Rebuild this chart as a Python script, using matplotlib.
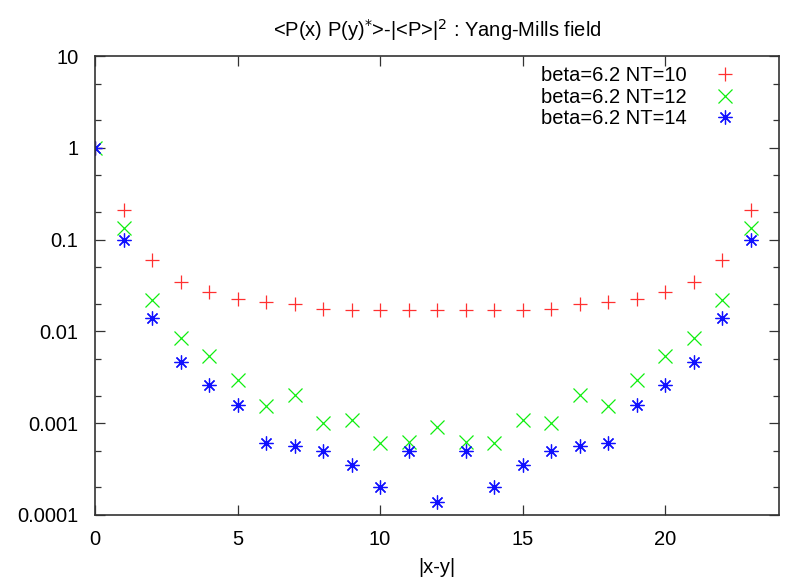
import numpy as np
import matplotlib.pyplot as plt
from matplotlib.ticker import LogLocator, NullFormatter, FixedLocator

plt.rcParams['font.family'] = ['Liberation Sans', 'DejaVu Sans']

# Dane
dist = list(range(24))
nt10 = [1, 0.209, 0.0594, 0.0342, 0.0266, 0.0227, 0.0207, 0.0199, 0.0177, 0.0169,
        0.0169, 0.0169, 0.0169, 0.0169, 0.0169, 0.0169, 0.0177, 0.0197, 0.0207,
        0.0227, 0.0266, 0.0342, 0.0594, 0.209]
nt12 = [1, 0.134, 0.0222, 0.00848, 0.00535, 0.00297, 0.00155, 0.00201, 0.00100,
        0.00109, 0.000607, 0.00063, 0.00092, 0.00063, 0.000607, 0.00109, 0.00100,
        0.00201, 0.00155, 0.00297, 0.00535, 0.00848, 0.0222, 0.134]
nt14 = [1, 0.100, 0.0140, 0.00464, 0.00258, 0.00156, 0.000607, 0.000571, 0.000504,
        0.000352, 0.000204, 0.000504, 0.000140, 0.000504, 0.000204, 0.000352,
        0.000504, 0.000571, 0.000607, 0.00156, 0.00258, 0.00464, 0.0140, 0.100]
labels = ['beta=6.2 NT=10', 'beta=6.2 NT=12', 'beta=6.2 NT=14']
yticks = [10, 1, 0.1, 0.01, 0.001, 0.0001]
yticklabels = ['10', '1', '0.1', '0.01', '0.001', '0.0001']

fs = 14.5

fig = plt.figure(figsize=(7.88, 5.82), dpi=100)
ax = fig.add_axes([95 / 788, 1 - 515 / 582, 684 / 788, 459 / 582])

ax.plot(dist, nt10, ls='none', marker='+', ms=10, mew=0.9, color='#ff3030', label=labels[0])
ax.plot(dist, nt12, ls='none', marker='x', ms=9.5, mew=0.9, color='#10ee10', label=labels[1])
ax.plot(dist, nt14, ls='none', marker=(8, 2, 0), ms=10, mew=0.9, color='#1010ff', label=labels[2])

ax.set_yscale('log')
ax.set_xlim(0, 24)
ax.set_ylim(0.0001, 10)
ax.xaxis.set_major_locator(FixedLocator([0, 5, 10, 15, 20]))
ax.set_yticks(yticks)
ax.set_yticklabels(yticklabels)
ax.yaxis.set_minor_locator(LogLocator(base=10, subs=(2, 5)))
ax.yaxis.set_minor_formatter(NullFormatter())

ax.tick_params(which='both', direction='in', top=True, right=True, labelsize=fs, color='#333333')
ax.tick_params(which='major', length=7, width=0.9)
ax.tick_params(which='minor', length=4, width=0.9)
ax.tick_params(axis='x', pad=11)
ax.tick_params(axis='y', pad=12)
for s in ax.spines.values():
    s.set_color('#333333')
    s.set_linewidth(1.2)

ax.set_xlabel('|x-y|', fontsize=fs, labelpad=6)
ax.set_title(r'<P(x) P(y)$^{*}$>-|<P>|$^{2}$ : Yang-Mills field', fontsize=fs, pad=14)

ax.legend(loc='upper right', frameon=False, markerfirst=False, fontsize=fs,
          handlelength=1.2, handletextpad=1.3, labelspacing=0.12,
          borderaxespad=0.12, bbox_to_anchor=(0.954, 1.0))

fig.savefig('out.png', dpi=100)
